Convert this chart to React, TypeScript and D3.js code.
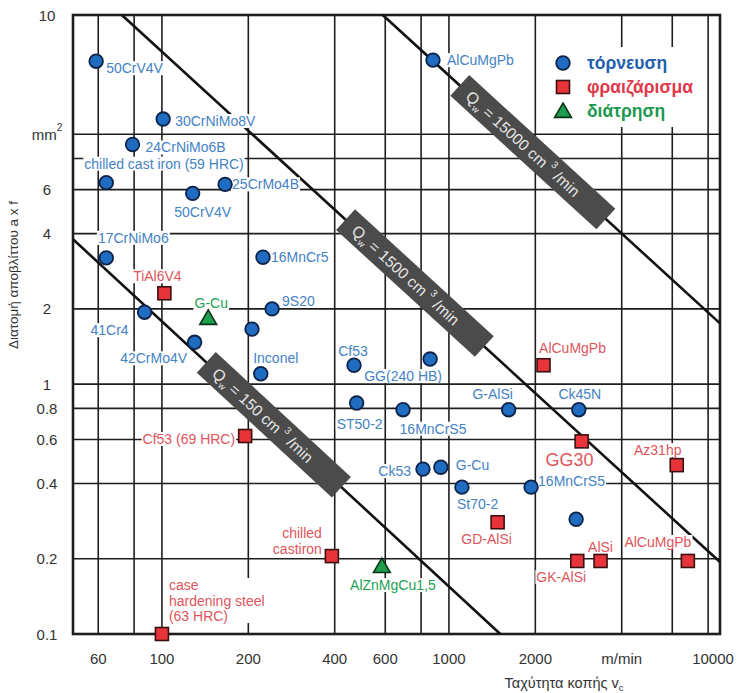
import React, { useLayoutEffect, useRef, useState } from 'react';
import * as d3 from 'd3';

// ---------- data ----------
type Pt = { label: string; v: number; a: number };

const turning: Pt[] = [
  { label: '50CrV4V', v: 59, a: 19.6 },
  { label: '30CrNiMo8V', v: 101, a: 11.5 },
  { label: '24CrNiMo6B', v: 79, a: 9.1 },
  { label: 'chilled cast iron (59 HRC)', v: 64, a: 6.4 },
  { label: '50CrV4V', v: 128, a: 5.8 },
  { label: '25CrMo4B', v: 166, a: 6.3 },
  { label: '17CrNiMo6', v: 64, a: 3.2 },
  { label: '41Cr4', v: 87, a: 1.94 },
  { label: '42CrMo4V', v: 130, a: 1.47 },
  { label: '', v: 206, a: 1.66 },
  { label: '16MnCr5', v: 225, a: 3.22 },
  { label: '9S20', v: 242, a: 2.0 },
  { label: 'Inconel', v: 221, a: 1.1 },
  { label: 'Cf53', v: 467, a: 1.19 },
  { label: 'GG(240 HB)', v: 860, a: 1.26 },
  { label: 'ST50-2', v: 477, a: 0.84 },
  { label: '16MnCrS5', v: 692, a: 0.79 },
  { label: 'G-AlSi', v: 1615, a: 0.79 },
  { label: 'Ck45N', v: 2835, a: 0.79 },
  { label: 'Ck53', v: 812, a: 0.457 },
  { label: 'G-Cu', v: 937, a: 0.465 },
  { label: 'St70-2', v: 1110, a: 0.387 },
  { label: '16MnCrS5', v: 1933, a: 0.387 },
  { label: '', v: 2775, a: 0.288 },
  { label: 'AlCuMgPb', v: 880, a: 19.8 },
];

const milling: Pt[] = [
  { label: 'TiAl6V4', v: 102, a: 2.31 },
  { label: 'Cf53 (69 HRC)', v: 195, a: 0.62 },
  { label: 'AlCuMgPb', v: 2136, a: 1.19 },
  { label: 'GG30', v: 2900, a: 0.59 },
  { label: 'Az31hp', v: 6220, a: 0.474 },
  { label: 'chilled|castiron', v: 391, a: 0.205 },
  { label: 'case|hardening steel|(63 HRC)', v: 100, a: 0.099 },
  { label: 'GD-AlSi', v: 1478, a: 0.28 },
  { label: 'GK-AlSi', v: 2800, a: 0.196 },
  { label: 'AlSi', v: 3375, a: 0.196 },
  { label: 'AlCuMgPb', v: 6800, a: 0.196 },
];

const drilling: Pt[] = [
  { label: 'G-Cu', v: 145, a: 1.84 },
  { label: 'AlZnMgCu1,5', v: 584, a: 0.187 },
];

const qwLines = [
  { q: '150', v0: 49, a0: 3.8, v1: 1510, a1: 0.1 },
  { q: '1500', v0: 72.5, a0: 30, v1: 8800, a1: 0.194 },
  { q: '15000', v0: 588, a0: 30, v1: 8800, a1: 1.75 },
];

const xGrid = [60, 80, 100, 200, 400, 600, 800, 1000, 2000, 4000, 6000, 8000];
const yGrid = [0.2, 0.4, 0.6, 0.8, 1, 2, 4, 6, 8, 10];
const xTickValues = [60, 100, 200, 400, 600, 1000, 2000, 4000, 10000];
const xTickLabels = ['60', '100', '200', '400', '600', '1000', '2000', 'm/min', '10000'];
const yTickValues = [0.1, 0.2, 0.4, 0.6, 0.8, 1, 2, 4, 6];
const yTickLabels = ['0.1', '0.2', '0.4', '0.6', '0.8', '1', '2', '4', '6'];

const legendItems = ['τόρνευση', 'φραιζάρισμα', 'διάτρηση'];

// ---------- layout (positions / styles) ----------
const W = 737, H = 693;
const L = 73, R = 720, T = 15, B = 634;
const X_MIN = 49, X_MAX = 8800, Y_MIN = 0.1, Y_MAX = 30;

type Place = [number, number, 'start' | 'middle' | 'end'];
const turningPlace: Place[] = [
  [10, 7, 'start'], [12, 2, 'start'], [13, 3, 'start'], [-22, -19, 'start'], [10, 19, 'middle'],
  [7, 0, 'start'], [27, -20, 'middle'], [-35, 18, 'middle'], [-41, 16, 'middle'], [0, 0, 'start'],
  [8, 0, 'start'], [10, -8, 'start'], [15, -16, 'middle'], [-1, -14, 'middle'], [-27, 17, 'middle'],
  [3, 21, 'middle'], [30, 19, 'middle'], [-16, -16, 'middle'], [1, -16, 'middle'], [-12, 2, 'end'],
  [15, -2, 'start'], [-5, 17, 'start'], [7, -6, 'start'], [0, 0, 'start'], [14, 0, 'start'],
];
const millingPlace: Place[] = [
  [-7, -17, 'middle'], [-10, 3, 'end'], [29, -17, 'middle'], [-12, 19, 'middle'], [-19, -15, 'middle'],
  [-10, -23, 'end'], [7, -49, 'start'], [-11, 17, 'middle'], [-16, 16, 'middle'], [0, -14, 'middle'],
  [-30, -19, 'middle'],
];
const drillingPlace: Place[] = [[3, -15, 'middle'], [11, 19, 'middle']];
const qwBoxT = [0.47, 0.49, 0.445];

const FONT = '"Liberation Sans", Arial, Helvetica, sans-serif';
const BLUE = '#1f6cc0', BLUE_TXT = '#4482c4';
const RED = '#e6343a', RED_TXT = '#e0555c';
const GREEN = '#1c9e4c', GREEN_TXT = '#22a055';
const GRID = '#1e1e1e';
const LABEL_SIZE = 14;

const x = d3.scaleLog().domain([X_MIN, X_MAX]).range([L, R]).clamp(true);
const y = d3.scaleLog().domain([Y_MIN, Y_MAX]).range([B, T]).clamp(true);

function Label({ px, py, place, text, color, size = LABEL_SIZE }: { px: number; py: number; place: Place; text: string; color: string; size?: number }) {
  const ref = useRef<SVGTextElement>(null);
  const [box, setBox] = useState<{ x: number; y: number; w: number; h: number } | null>(null);
  useLayoutEffect(() => {
    if (ref.current) {
      const b = ref.current.getBBox();
      setBox({ x: b.x, y: b.y, w: b.width, h: b.height });
    }
  }, [text]);
  if (!text) return null;
  const lines = text.split('|');
  return (
    <g>
      {box && <rect x={box.x - 1} y={box.y + 1} width={box.w + 2} height={box.h - 2} fill="#fff" />}
      <text
        ref={ref}
        x={px + place[0]}
        y={py + place[1]}
        textAnchor={place[2]}
        dominantBaseline="central"
        fontSize={size}
        fill={color}
        fontFamily={FONT}
      >
        {lines.map((ln, i) => (
          <tspan key={i} x={px + place[0]} dy={i === 0 ? 0 : 15.5}>{ln}</tspan>
        ))}
      </text>
    </g>
  );
}

function Circle({ cx, cy }: { cx: number; cy: number }) {
  return <circle cx={cx} cy={cy} r={6.8} fill={BLUE} stroke="#0e2347" strokeWidth={1.8} />;
}
function Square({ cx, cy }: { cx: number; cy: number }) {
  return <rect x={cx - 6.5} y={cy - 6.5} width={13} height={13} fill={RED} stroke="#3b1010" strokeWidth={1.6} />;
}
function Tri({ cx, cy }: { cx: number; cy: number }) {
  const s = 8;
  return <path d={`M${cx},${cy - s} L${cx + s * 1.05},${cy + s * 0.8} L${cx - s * 1.05},${cy + s * 0.8} Z`} fill={GREEN} stroke="#0b3219" strokeWidth={1.6} />;
}

export default function App() {
  return (
    <svg width={W} height={H} style={{ position: 'absolute', left: 0, top: 0, background: '#fff' }} fontFamily={FONT}>
      <rect width={W} height={H} fill="#fff" />
      {/* grid */}
      {xGrid.map((g) => (
        <line key={'xg' + g} x1={x(g)} x2={x(g)} y1={T} y2={B} stroke={GRID} strokeWidth={1.6} />
      ))}
      {yGrid.map((g) => (
        <line key={'yg' + g} x1={L} x2={R} y1={y(g)} y2={y(g)} stroke={GRID} strokeWidth={1.6} />
      ))}
      {/* legend background */}
      <rect x={545} y={47} width={156} height={80} fill="#fff" />

      {/* frame */}
      <rect x={L} y={T} width={R - L} height={B - T} fill="none" stroke={GRID} strokeWidth={2.6} />

      {/* Qw lines */}
      {qwLines.map((q) => (
        <line key={'ql' + q.q} x1={x(q.v0)} y1={y(q.a0)} x2={x(q.v1)} y2={y(q.a1)} stroke="#111" strokeWidth={2.6} />
      ))}

      {/* labels */}
      {turning.map((p, i) => (
        <Label key={'tl' + i} px={x(p.v)} py={y(p.a)} place={turningPlace[i]} text={p.label} color={BLUE_TXT} />
      ))}
      {milling.map((p, i) => (
        <Label key={'ml' + i} px={x(p.v)} py={y(p.a)} place={millingPlace[i]} text={p.label} color={RED_TXT} size={p.label === 'GG30' ? 18 : LABEL_SIZE} />
      ))}
      {drilling.map((p, i) => (
        <Label key={'dl' + i} px={x(p.v)} py={y(p.a)} place={drillingPlace[i]} text={p.label} color={GREEN_TXT} />
      ))}

      {/* Qw boxes */}
      {qwLines.map((q, i) => {
        const x0 = x(q.v0), y0 = y(q.a0), x1 = x(q.v1), y1 = y(q.a1);
        const t = qwBoxT[i];
        const cx = x0 + (x1 - x0) * t, cy = y0 + (y1 - y0) * t;
        const ang = (Math.atan2(y1 - y0, x1 - x0) * 180) / Math.PI;
        const bw = q.q === '15000' ? 198 : q.q === '1500' ? 188 : 184;
        return (
          <g key={'qb' + q.q} transform={`translate(${cx},${cy}) rotate(${ang})`}>
            <rect x={-bw / 2} y={-14} width={bw} height={28} fill="#4b4b4b" />
            <text x={-bw / 2 + 12} y={6} fill="#e6e6e6" fontSize={16} fontFamily={FONT}>
              Q
              <tspan fontSize={9} dy={4}>w</tspan>
              <tspan fontSize={15.5} dy={-4}>{`  =  ${q.q} cm `}</tspan>
              <tspan fontSize={10} dy={-8}>3</tspan>
              <tspan fontSize={15.5} dy={8}> /min</tspan>
            </text>
          </g>
        );
      })}

      {/* points */}
      {turning.map((p, i) => <Circle key={'t' + i} cx={x(p.v)} cy={y(p.a)} />)}
      {milling.map((p, i) => <Square key={'m' + i} cx={x(p.v)} cy={y(p.a)} />)}
      {drilling.map((p, i) => <Tri key={'d' + i} cx={x(p.v)} cy={y(p.a)} />)}

      {/* legend */}
      <Circle cx={563} cy={63} />
      <Square cx={563} cy={87} />
      <Tri cx={563} cy={111} />
      {legendItems.map((s, i) => (
        <text key={'lg' + i} x={587} y={63 + i * 24} dominantBaseline="central" fontSize={17.5} fontWeight="bold"
          fill={['#1f5fae', '#e0384a', '#1a9a50'][i]}>{s}</text>
      ))}

      {/* x ticks */}
      {xTickValues.map((v, i) => (
        <text key={'xt' + i} x={x(v) - (v === 10000 ? 7 : 0)} y={658} textAnchor="middle" dominantBaseline="central" fontSize={15} fill="#333">
          {xTickLabels[i]}
        </text>
      ))}
      {/* y ticks */}
      {yTickValues.map((v, i) => (
        <text key={'yt' + i} x={47} y={y(v)} textAnchor="middle" dominantBaseline="central" fontSize={15} fill="#333">
          {yTickLabels[i]}
        </text>
      ))}
      <text x={47} y={y(10)} textAnchor="middle" dominantBaseline="central" fontSize={15} fill="#333">
        mm<tspan fontSize={10} dy={-7}>2</tspan>
      </text>
      <text x={47} y={y(Y_MAX)} textAnchor="middle" dominantBaseline="central" fontSize={15} fill="#333">10</text>

      {/* axis titles */}
      <text x={564} y={683} textAnchor="middle" dominantBaseline="central" fontSize={14.5} fill="#333">
        Ταχύτητα κοπής v<tspan fontSize={9.5} dy={4}>c</tspan>
      </text>
      <text transform={`translate(13,275) rotate(-90)`} textAnchor="middle" dominantBaseline="central" fontSize={13.5} fill="#333">
        Διατομή αποβλίττου a x f
      </text>
    </svg>
  );
}
